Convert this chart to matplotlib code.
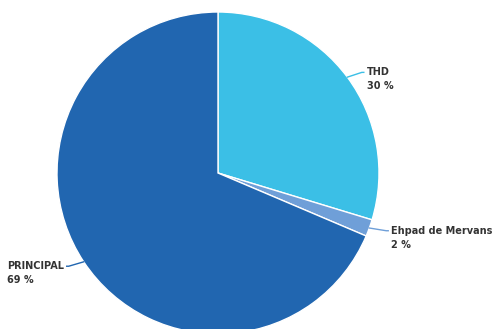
import numpy as np
import matplotlib
matplotlib.use('Agg')
import matplotlib.pyplot as plt

labels = ['THD', 'Ehpad de Mervans', 'PRINCIPAL']
values = [29.7, 1.7, 68.6]
pct_text = ['30 %', '2 %', '69 %']
colors = ['#3bbfe6', '#6f9fd8', '#2166b0']

W, H = 495, 329
cx, cy, R = 218, 173, 161

fig = plt.figure(figsize=(W / 100, H / 100), dpi=100)
ax = fig.add_axes([0, 0, 1, 1])
ax.set_axis_off()

wedges, _ = ax.pie(values, colors=colors, startangle=90, counterclock=False,
                   center=(cx, -cy), radius=R,
                   wedgeprops=dict(edgecolor='white', linewidth=1))
ax.set_xlim(0, W)
ax.set_ylim(-H, 0)
ax.set_aspect('equal')

# connector + two-line label per slice
for w, lab, pt, col in zip(wedges, labels, pct_text, colors):
    mid = np.deg2rad((w.theta1 + w.theta2) / 2)
    x0 = cx + R * np.cos(mid)
    y0 = -cy + R * np.sin(mid)
    x1 = cx + (R + 18) * np.cos(mid)
    y1 = -cy + (R + 8) * np.sin(mid)
    right = np.cos(mid) >= 0
    x2 = x1 + 2 if right else x1 - 2
    ax.plot([x0, x1, x2], [y0, y1, y1], color=col, lw=1)
    ax.text(x2 + 3 if right else x2 - 3, y1 + 5, f'{lab}\n{pt}',
            ha='left' if right else 'right', va='top', multialignment='left',
            fontsize=7, fontweight='bold', color='#333333', linespacing=1.5)

fig.savefig('out.png', dpi=100)
